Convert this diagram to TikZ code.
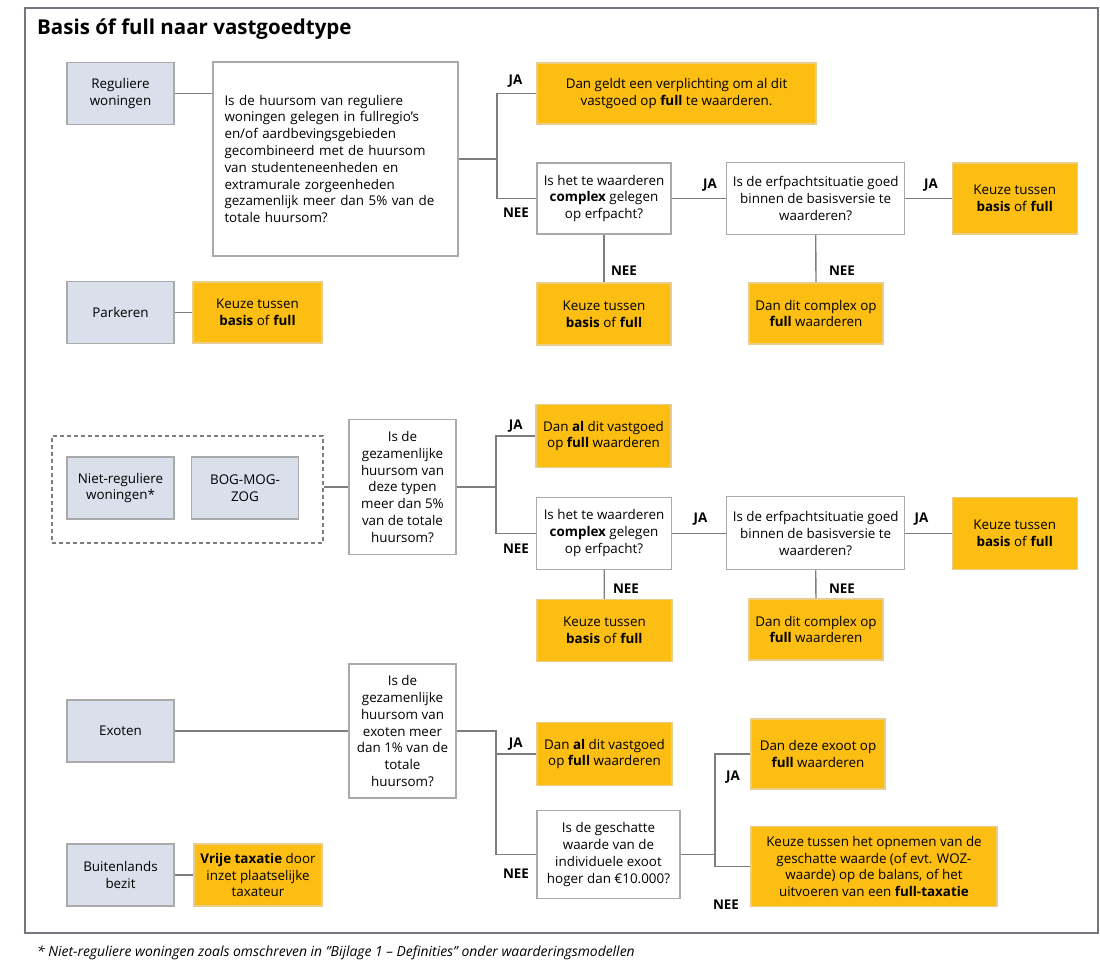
\documentclass[tikz,border=0pt]{standalone}
\usepackage{fontspec}
\setmainfont{Open Sans}
\usepackage{xcolor}
\definecolor{typeblauw}{RGB}{217,223,235}
\definecolor{keuzegeel}{RGB}{252,190,18}
\definecolor{keuzerand}{RGB}{232,205,140}
\definecolor{randgrijs}{RGB}{170,170,170}
\definecolor{lijngrijs}{RGB}{125,125,125}
\definecolor{kadergrijs}{RGB}{115,118,126}

\tikzset{
  soort/.style={draw=randgrijs, fill=typeblauw, line width=1.2, align=center, inner sep=0pt, minimum width=107, minimum height=62},
  vraag/.style={draw=randgrijs, fill=white, line width=1.2, align=center, inner sep=0pt},
  uitkomst/.style={draw=keuzerand, fill=keuzegeel, line width=1.2, align=center, inner sep=0pt},
  janee/.style={font=\fontsize{13.4}{15}\selectfont\bfseries},
  verbinding/.style={draw=lijngrijs, line width=1.3},
  kader/.style={draw=kadergrijs, line width=2}
}

\begin{document}
\begin{tikzpicture}[x=1pt, y=-1pt, font=\fontsize{13.4}{16.8}\selectfont]
    \useasboundingbox (0,0) rectangle (1100,965);

    % Kader en titel
    \draw[kader] (24.5,8) rectangle (1097.5,932.5);
    \node[anchor=base west, inner sep=0pt, font=\fontsize{20.5}{24}\selectfont\bfseries] (titel) at (37,34.3) {Basis óf full naar vastgoedtype};

    % Reguliere woningen
    \node[soort] (regwon) at (120.5,93.5) {Reguliere\\woningen};
    \node[vraag, align=left, text width=222, inner xsep=11.5, minimum height=194] (vraag1) at (335.5,159) {Is de huursom van reguliere\\woningen gelegen in fullregio’s\\en/of aardbevingsgebieden\\gecombineerd met de huursom\\van studenteneenheden en\\extramurale zorgeenheden\\gezamenlijk meer dan 5\% van de\\totale huursom?};
    \node[uitkomst, minimum width=279, minimum height=61] (ja1) at (676.5,93.5) {Dan geldt een verplichting om al dit\\vastgoed op \textbf{full} te waarderen.};
    \node[vraag, minimum width=134, minimum height=71] (erf1) at (604,198.5) {Is het te waarderen\\\textbf{complex} gelegen\\op erfpacht?};
    \node[vraag, minimum width=178, minimum height=72] (goed1) at (815.7,198.5) {Is de erfpachtsituatie goed\\binnen de basisversie te\\waarderen?};
    \node[uitkomst, minimum width=125, minimum height=71] (keuze1) at (1014.7,198.5) {Keuze tussen\\\textbf{basis} of \textbf{full}};
    \node[uitkomst, minimum width=134, minimum height=62] (nee1) at (604,314) {Keuze tussen\\\textbf{basis} of \textbf{full}};
    \node[uitkomst, minimum width=134, minimum height=61] (nee2) at (816,313.5) {Dan dit complex op\\\textbf{full} waarderen};

    % Parkeren
    \node[soort] (park) at (120.5,312.5) {Parkeren};
    \node[uitkomst, minimum width=129, minimum height=61] (parkkeuze) at (257.5,312.5) {Keuze tussen\\\textbf{basis} of \textbf{full}};

    % Niet-reguliere woningen en BOG-MOG-ZOG
    \node[draw=lijngrijs, line width=1.2, dash pattern=on 4pt off 3pt, minimum width=271, minimum height=107] (groep) at (187.5,489.5) {};
    \node[soort] (nietreg) at (120.5,488) {Niet-reguliere\\woningen*};
    \node[soort] (bog) at (245,488) {BOG-MOG-\\ZOG};
    \node[vraag, minimum width=107, minimum height=135] (vraag2) at (402.5,487) {Is de\\gezamenlijke\\huursom van\\deze typen\\meer dan 5\%\\van de totale\\huursom?};
    \node[uitkomst, minimum width=135, minimum height=63] (ja2) at (603.5,436) {Dan \textbf{al} dit vastgoed\\op \textbf{full} waarderen};
    \node[vraag, minimum width=135, minimum height=72] (erf2) at (604,533.3) {Is het te waarderen\\\textbf{complex} gelegen\\op erfpacht?};
    \node[vraag, minimum width=178, minimum height=73] (goed2) at (815.7,533.3) {Is de erfpachtsituatie goed\\binnen de basisversie te\\waarderen?};
    \node[uitkomst, minimum width=125, minimum height=72] (keuze2) at (1014.7,533.3) {Keuze tussen\\\textbf{basis} of \textbf{full}};
    \node[uitkomst, minimum width=135, minimum height=62] (nee3) at (604.4,630.5) {Keuze tussen\\\textbf{basis} of \textbf{full}};
    \node[uitkomst, minimum width=134, minimum height=61] (nee4) at (816,629.5) {Dan dit complex op\\\textbf{full} waarderen};

    % Exoten
    \node[soort] (exoten) at (120.5,731) {Exoten};
    \node[vraag, minimum width=107, minimum height=134] (vraag3) at (402.5,731) {Is de\\gezamenlijke\\huursom van\\exoten meer\\dan 1\% van de\\totale\\huursom?};
    \node[uitkomst, minimum width=135, minimum height=63] (ja3) at (604.5,754) {Dan \textbf{al} dit vastgoed\\op \textbf{full} waarderen};
    \node[vraag, minimum width=143, minimum height=88] (geschat) at (608.5,854.5) {Is de geschatte\\waarde van de\\individuele exoot\\hoger dan €10.000?};
    \node[uitkomst, minimum width=134, minimum height=70] (ja4) at (818,754) {Dan deze exoot op\\\textbf{full} waarderen};
    \node[uitkomst, minimum width=246, minimum height=80] (nee5) at (874,866.5) {Keuze tussen het opnemen van de\\geschatte waarde (of evt. WOZ-\\waarde) op de balans, of het\\uitvoeren van een \textbf{full-taxatie}};

    % Buitenlands bezit
    \node[soort] (buit) at (120.5,875) {Buitenlands\\bezit};
    \node[uitkomst, minimum width=128, minimum height=62] (vrije) at (258,875) {\textbf{Vrije taxatie} door\\inzet plaatselijke\\taxateur};

    % Splitsingen
    \coordinate (split1) at (497,159);
    \coordinate (split2) at (496,487);
    \coordinate (split3) at (496,731);
    \coordinate (split4) at (715,854.5);

    % Verbindingen
    \draw[verbinding] (regwon.east) -- (regwon.east -| vraag1.west);
    \draw[verbinding] (vraag1.east) -- (split1);
    \draw[verbinding] (ja1.west) -| (split1) |- (erf1.west);
    \draw[verbinding] (erf1) -- (goed1);
    \draw[verbinding] (goed1) -- (keuze1);
    \draw[verbinding] (erf1) -- (nee1);
    \draw[verbinding] (goed1) -- (nee2);
    \draw[verbinding] (park) -- (parkkeuze);
    \draw[verbinding] (groep.east |- vraag2.west) -- (vraag2.west);
    \draw[verbinding] (vraag2.east) -- (split2);
    \draw[verbinding] (ja2.west) -| (split2) |- (erf2.west);
    \draw[verbinding] (erf2) -- (goed2);
    \draw[verbinding] (goed2) -- (keuze2);
    \draw[verbinding] (erf2) -- (nee3);
    \draw[verbinding] (goed2) -- (nee4);
    \draw[verbinding] (exoten) -- (vraag3);
    \draw[verbinding] (vraag3.east) -- (split3) |- (geschat.west);
    \draw[verbinding] (split3 |- ja3.west) -- (ja3.west);
    \draw[verbinding] (geschat.east) -- (split4);
    \draw[verbinding] (ja4.west) -| (split4) |- (nee5.west);
    \draw[verbinding] (buit) -- (vrije);

    % JA / NEE
    \node[janee] (jaA) at (515.5,81) {JA};
    \node[janee] (neeA) at (516,212.7) {NEE};
    \node[janee] (jaB) at (710,185) {JA};
    \node[janee] (jaC) at (931,185) {JA};
    \node[janee] (neeB) at (624,271) {NEE};
    \node[janee] (neeC) at (842,271) {NEE};
    \node[janee] (jaD) at (515.7,425.7) {JA};
    \node[janee] (neeD) at (516,548.3) {NEE};
    \node[janee] (jaE) at (700.4,519.3) {JA};
    \node[janee] (jaF) at (921.4,519.3) {JA};
    \node[janee] (neeE) at (626,589) {NEE};
    \node[janee] (neeF) at (842,589) {NEE};
    \node[janee] (jaG) at (515.7,744.3) {JA};
    \node[janee] (neeG) at (516,874) {NEE};
    \node[janee] (jaH) at (733,776.7) {JA};
    \node[janee] (neeH) at (726,904.3) {NEE};

    % Voetnoot
    \node[anchor=west, inner sep=0pt, font=\fontsize{13.9}{16}\selectfont\itshape] (voetnoot) at (37,953.3) {* Niet-reguliere woningen zoals omschreven in {\char"22}Bijlage 1 – Definities{\char"22} onder waarderingsmodellen};
\end{tikzpicture}
\end{document}
